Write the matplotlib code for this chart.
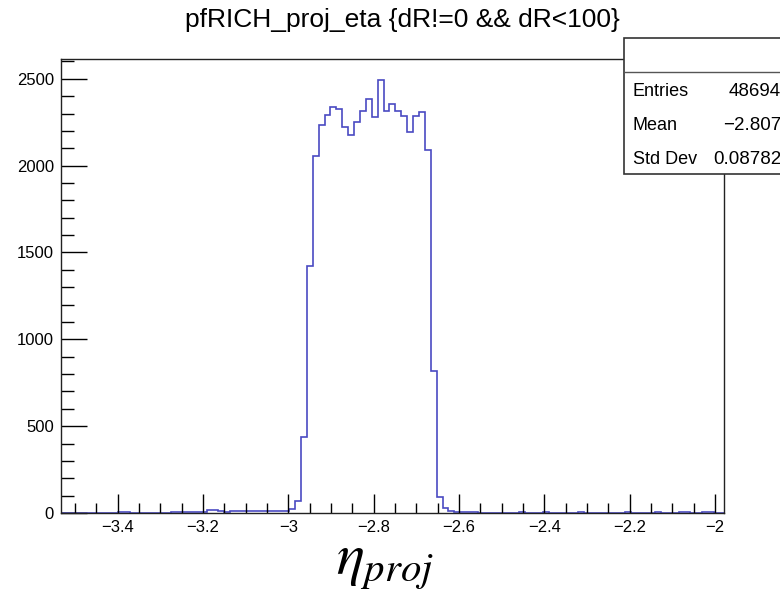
import numpy as np
import matplotlib
matplotlib.use("Agg")
import matplotlib.pyplot as plt
from matplotlib.ticker import MultipleLocator
from matplotlib.patches import Rectangle

plt.rcParams['font.family'] = ['Liberation Sans', 'DejaVu Sans']
plt.rcParams['mathtext.fontset'] = 'stix'

# histogram binning (113 bins) and axis range
x_lo, x_hi = -3.5376, -1.9748
n_bins = 113
x_min, x_max = -3.533, -1.979

counts = [
    0, 0, 0, 0, 0, 0, 0, 0, 0, 0,
    4, 4, 0, 1, 0, 0, 2, 0, 1, 5,
    4, 6, 5, 6, 7, 16, 15, 9, 8, 14,
    13, 9, 14, 12, 11, 12, 11, 12, 13, 21,
    71, 440, 1420, 2054, 2236, 2290, 2336, 2329, 2223, 2177,
    2250, 2315, 2384, 2279, 2496, 2317, 2353, 2317, 2284, 2196,
    2284, 2307, 2088, 820, 90, 27, 10, 8, 6, 5,
    3, 2, 2, 1, 2, 1, 1, 2, 3, 2,
    1, 2, 3, 2, 2, 1, 2, 1, 3, 2,
    1, 2, 2, 1, 1, 2, 3, 2, 1, 2,
    2, 3, 2, 1, 2, 4, 3, 2, 1, 3,
    4, 2, 0,
]

stats_labels = ["Entries", "Mean", "Std Dev"]
stats_values = ["48694", "\u22122.807", "0.08782"]

title = "pfRICH_proj_eta {dR!=0 && dR<100}"

W, H = 780, 593
fig = plt.figure(figsize=(W / 100, H / 100), dpi=100)
ax = fig.add_axes([61 / W, 1 - 513 / H, (724 - 61) / W, (513 - 58.5) / H])

edges = np.linspace(x_lo, x_hi, n_bins + 1)
ax.stairs(counts, edges, color='#4a4ac2', lw=1.2)

ax.set_xlim(x_min, x_max)
ax.set_ylim(0, 2617)

ax.xaxis.set_major_locator(MultipleLocator(0.2))
ax.xaxis.set_minor_locator(MultipleLocator(0.05))
ax.yaxis.set_major_locator(MultipleLocator(500))
ax.yaxis.set_minor_locator(MultipleLocator(100))
ax.tick_params(axis='x', which='major', direction='in', length=14, width=1, labelsize=12, pad=5)
ax.tick_params(axis='x', which='minor', direction='in', length=7, width=1)
ax.tick_params(axis='y', which='major', direction='in', length=19, width=1, labelsize=12, pad=5)
ax.tick_params(axis='y', which='minor', direction='in', length=9.5, width=1)
for s in ax.spines.values():
    s.set_linewidth(1.0)
    s.set_color('#222222')

ax.xaxis.set_major_formatter(plt.FuncFormatter(
    lambda v, p: ('\u2212' if v < -1e-9 else '') + ('%g' % abs(round(v, 2)))))

fig.text(402 / W, 1 - 20 / H, title, ha='center', va='center', fontsize=19)
fig.text(385 / W, 1 - 565 / H, r'$\eta_{proj}$', ha='center', va='center', fontsize=42)

# stats box
bx0, by0, by1 = 624, 38, 174
box = Rectangle((bx0 / W, 1 - by1 / H), (W + 10 - bx0) / W, (by1 - by0) / H,
                transform=fig.transFigure, facecolor='white', edgecolor='#333333',
                lw=1.2, zorder=5)
fig.add_artist(box)
fig.add_artist(plt.Line2D([bx0 / W, 1.0], [1 - 72 / H, 1 - 72 / H],
                          transform=fig.transFigure, color='#555555', lw=1.0, zorder=6))
for i, (lab, val) in enumerate(zip(stats_labels, stats_values)):
    yy = 1 - (91 + 34 * i) / H
    fig.text(633 / W, yy, lab, ha='left', va='center', fontsize=13, zorder=7)
    fig.text(781 / W, yy, val, ha='right', va='center', fontsize=13.5, zorder=7)

fig.savefig('out.png', dpi=100)
